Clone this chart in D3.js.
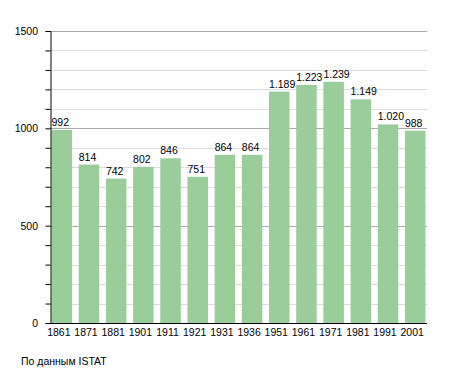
<!DOCTYPE html>
<html>
<head>
<meta charset="utf-8">
<script src="https://cdn.jsdelivr.net/npm/d3@7"></script>
<style>
  body { margin: 0; background: #fff; }
  text { font-family: "Liberation Sans", Arial, sans-serif; }
</style>
</head>
<body>
<div id="chart"></div>
<script>
// Population by census year
const years = ["1861", "1871", "1881", "1901", "1911", "1921", "1931", "1936", "1951", "1961", "1971", "1981", "1991", "2001"];
const population = [992, 814, 742, 802, 846, 751, 864, 864, 1189, 1223, 1239, 1149, 1020, 988];
const yTicks = [0, 500, 1000, 1500];
const source = "По данным ISTAT";

const width = 455, height = 373;
const margin = {left: 50, right: 28, top: 31, bottom: 50};

const svg = d3.select("#chart").append("svg")
    .attr("width", width)
    .attr("height", height);

const x = d3.scaleBand()
    .domain(years)
    .range([margin.left + 1, width - margin.right - 1])
    .paddingInner(0.245)
    .paddingOuter(0.02);

const y = d3.scaleLinear()
    .domain([0, 1500])
    .range([height - margin.bottom, margin.top]);

// grid lines, every 100, darker every 500
const grid = svg.append("g");
d3.range(100, 1501, 100).forEach(v => {
    grid.append("line")
        .attr("x1", margin.left)
        .attr("x2", width - margin.right)
        .attr("y1", Math.round(y(v)) + 0.5)
        .attr("y2", Math.round(y(v)) + 0.5)
        .attr("stroke", v % 500 === 0 ? "#aaa" : "#ddd")
        .attr("stroke-width", 1);
});

// bars
svg.append("g").selectAll("rect")
    .data(population)
    .enter().append("rect")
    .attr("x", (d, i) => x(years[i]))
    .attr("width", x.bandwidth())
    .attr("y", d => y(d))
    .attr("height", d => y(0) - y(d))
    .attr("fill", "#9bcd9b");

// value labels (left aligned with the bar)
const fmt = v => v >= 1000 ? d3.format(",")(v).replace(",", ".") : String(v);
svg.append("g").selectAll("text")
    .data(population)
    .enter().append("text")
    .attr("x", (d, i) => x(years[i]))
    .attr("y", d => y(d) - 4)
    .attr("font-size", 10.5)
    .attr("fill", "#000")
    .text(fmt);

// y axis
const yAxis = svg.append("g")
    .attr("transform", `translate(${margin.left + 0.5},0)`)
    .call(d3.axisLeft(y).tickValues(d3.range(0, 1501, 100)).tickSize(5).tickFormat(""));
yAxis.select(".domain").attr("stroke", "#000");
yAxis.selectAll(".tick line").attr("stroke", "#000");

svg.append("g").selectAll("text")
    .data(yTicks)
    .enter().append("text")
    .attr("x", 38)
    .attr("y", d => y(d) + 4)
    .attr("text-anchor", "end")
    .attr("font-size", 10.5)
    .text(d => d);

// x axis
svg.append("line")
    .attr("x1", margin.left)
    .attr("x2", width - margin.right)
    .attr("y1", y(0) + 0.5)
    .attr("y2", y(0) + 0.5)
    .attr("stroke", "#000");

svg.append("g").selectAll("text")
    .data(years)
    .enter().append("text")
    .attr("x", d => x(d) + x.bandwidth() / 2 - 3)
    .attr("y", y(0) + 12.5)
    .attr("text-anchor", "middle")
    .attr("font-size", 10.5)
    .text(d => d);

// source note
svg.append("text")
    .attr("x", 21)
    .attr("y", 365)
    .attr("font-size", 10.5)
    .text(source);
</script>
</body>
</html>
